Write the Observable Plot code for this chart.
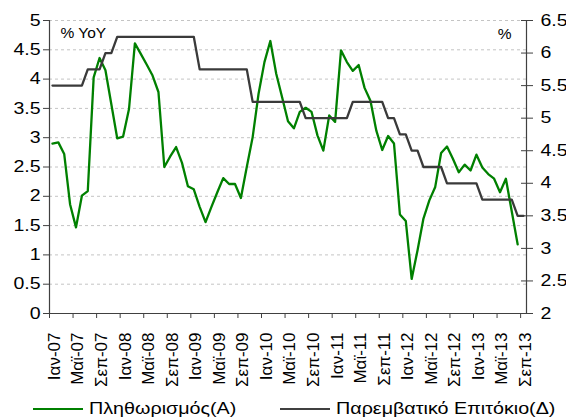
<!DOCTYPE html>
<html><head><meta charset="utf-8">
<script src="https://cdn.jsdelivr.net/npm/d3@7"></script>
<script src="https://cdn.jsdelivr.net/npm/@observablehq/plot@0.6"></script>
<style>
body{margin:0;background:#fff;font-family:"Liberation Sans",Arial,sans-serif;}
#wrap{position:relative;width:566px;height:419px;overflow:hidden;}
.leg{position:absolute;top:400px;height:17px;line-height:17px;display:flex;align-items:center;font-size:17px;color:#000;white-space:nowrap;}
.leg .sw{display:inline-block;width:50px;height:2px;margin-right:6px;}
.leg .lbl{display:inline-block;transform-origin:left center;transform:scaleX(1.16);}
</style></head><body>
<div id="wrap"><div id="chart"></div>
<div class="leg" style="left:33px"><span class="sw" style="background:#008000"></span><span class="lbl">Πληθωρισμός(A)</span></div>
<div class="leg" style="left:280px"><span class="sw" style="background:#404040"></span><span class="lbl">Παρεμβατικό Επιτόκιο(Δ)</span></div>
</div>
<script>
// Inflation, % YoY (left axis), monthly from Ιαν-07
const inflation = [
  2.90,2.92,2.72,1.86,1.47,2.01,2.09,4.03,4.36,4.15,3.57,2.99,
  3.02,3.49,4.61,4.43,4.25,4.06,3.78,2.50,2.68,2.84,2.57,2.17,
  2.12,1.82,1.56,1.82,2.07,2.31,2.21,2.21,1.97,2.50,3.01,3.75,
  4.29,4.65,4.09,3.69,3.28,3.16,3.44,3.51,3.44,3.04,2.78,3.38,
  3.27,4.49,4.29,4.14,4.24,3.85,3.63,3.12,2.79,3.03,2.90,1.69,
  1.58,0.59,1.08,1.62,1.93,2.16,2.74,2.85,2.64,2.41,2.54,2.44,
  2.71,2.49,2.38,2.30,2.07,2.30,1.74,1.18
];
// Policy rate, % (right axis), monthly from Ιαν-07
const policyRate = [
  5.5,5.5,5.5,5.5,5.5,5.5,5.75,5.75,5.75,6.0,6.0,6.25,
  6.25,6.25,6.25,6.25,6.25,6.25,6.25,6.25,6.25,6.25,6.25,6.25,
  6.25,5.75,5.75,5.75,5.75,5.75,5.75,5.75,5.75,5.75,5.25,5.25,
  5.25,5.25,5.25,5.25,5.25,5.25,5.25,5.0,5.0,5.0,5.0,5.0,
  5.0,5.0,5.0,5.25,5.25,5.25,5.25,5.25,5.25,5.0,5.0,4.75,
  4.75,4.5,4.5,4.25,4.25,4.25,4.25,4.0,4.0,4.0,4.0,4.0,
  4.0,3.75,3.75,3.75,3.75,3.75,3.75,3.5,3.5
];
const tickLabels = ["Ιαν-07","Μαϊ-07","Σεπ-07","Ιαν-08","Μαϊ-08","Σεπ-08","Ιαν-09","Μαϊ-09","Σεπ-09","Ιαν-10","Μαϊ-10","Σεπ-10","Ιαν-11","Μαϊ-11","Σεπ-11","Ιαν-12","Μαϊ-12","Σεπ-12","Ιαν-13","Μαϊ-13","Σεπ-13"];
const leftTicks = [0,0.5,1,1.5,2,2.5,3,3.5,4,4.5,5];
const rightTicks = [2,2.5,3,3.5,4,4.5,5,5.5,6,6.5];
const nMonths = 81;

const R0 = 2, R1 = 6.5, L1 = 5;
const toLeft = r => (r - R0) * L1 / (R1 - R0);

const infl = inflation.map((v, i) => ({i, v}));
const rate = policyRate.map((v, i) => ({i, v: toLeft(v)}));
const labs = tickLabels.map((label, k) => ({i: k * 4, label}));

const axisColor = "#404040";
const chart = Plot.plot({
  width: 566, height: 393,
  marginLeft: 49, marginRight: 40, marginTop: 20, marginBottom: 80,
  style: {fontFamily: '"Liberation Sans", Arial, sans-serif', background: "#fff", color: "#000"},
  x: {domain: [0, nMonths], axis: null},
  y: {domain: [0, L1], axis: null},
  marks: [
    Plot.gridY(leftTicks.filter(d => d > 0), {stroke: "#c4c4c4", strokeOpacity: 1, strokeDasharray: "3,3"}),
    Plot.axisY(leftTicks, {anchor: "left", label: null, tickSize: 6, tickPadding: 3, fontSize: 16, stroke: axisColor, fill: "#000",
      tickFormat: d => String(d)}),
    Plot.axisY(rightTicks.map(toLeft), {anchor: "right", label: null, tickSize: 12, dx: -6, tickPadding: 8, fontSize: 16, stroke: axisColor, fill: "#000",
      tickFormat: (d, i) => String(rightTicks[i])}),
    Plot.axisX(d3.range(0, nMonths, 4), {anchor: "bottom", label: null, tickSize: 5, stroke: axisColor, tickFormat: () => ""}),
    Plot.text(labs, {x: d => d.i + 0.5, text: d => d.label, frameAnchor: "bottom", rotate: -90, textAnchor: "end", lineAnchor: "middle", dy: 19, dx: 2, fontSize: 17, fill: "#000"}),
    Plot.ruleX([0, nMonths], {stroke: axisColor, strokeWidth: 1.2}),
    Plot.ruleY([0], {stroke: axisColor, strokeWidth: 1.2}),
    Plot.line(infl, {x: d => d.i + 0.5, y: "v", stroke: "#008000", strokeWidth: 2.3}),
    Plot.line(rate, {x: d => d.i + 0.5, y: "v", stroke: "#3a3a3a", strokeWidth: 2.3}),
    Plot.text(["% YoY"], {frameAnchor: "top-left", dx: 11, dy: 13, textAnchor: "start", lineAnchor: "middle", fontSize: 15.5, fill: "#000"}),
    Plot.text(["%"], {frameAnchor: "top-right", dx: -15, dy: 14, textAnchor: "end", lineAnchor: "middle", fontSize: 15.5, fill: "#000"})
  ]
});
document.getElementById("chart").appendChild(chart);
// widen the axis numbers like the reference
chart.querySelectorAll('g[aria-label="y-axis tick label"] text').forEach(t => {
  const L = t.getComputedTextLength();
  t.setAttribute("textLength", (L * 1.22).toFixed(2));
  t.setAttribute("lengthAdjust", "spacingAndGlyphs");
});
</script>
</body></html>
